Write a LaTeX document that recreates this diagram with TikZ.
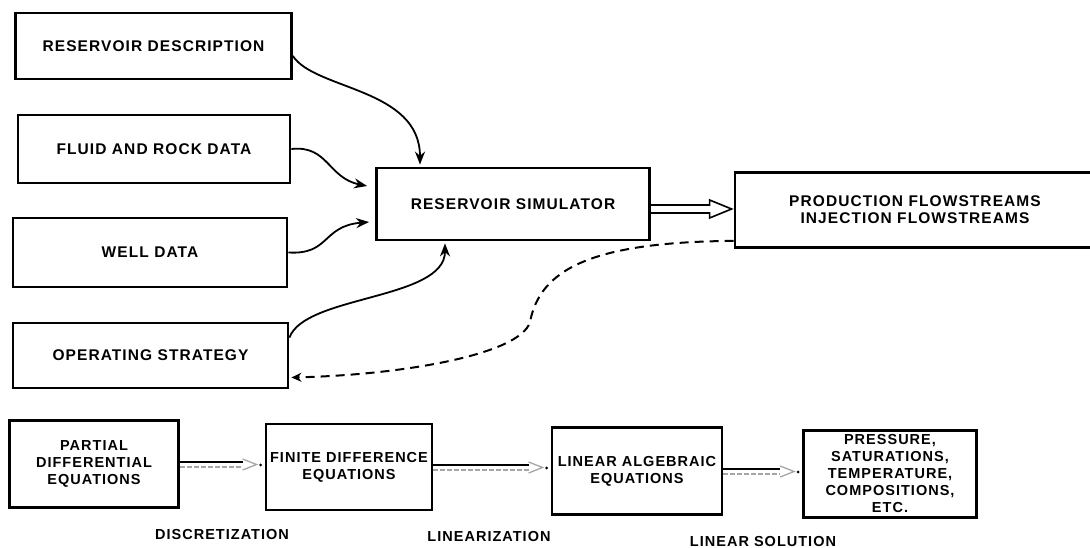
\documentclass[tikz,border=0pt]{standalone}
\usepackage{fontspec}
\newfontfamily\lab{Liberation Sans}[LetterSpace=7]
\usetikzlibrary{arrows.meta,calc}
\newcommand\flowarr[2]{%
  \path (#1.east) ++(0,-2) coordinate (fa1) (#2.west|-fa1) coordinate (fa2);
  \draw[line width=1.6pt] (fa1) -- ($(fa2)+(-22,0)$);
  \draw[gray!70, line width=1.3pt, dash pattern=on 5pt off 2pt] ($(fa1)+(0,5)$) -- ($(fa2)+(-22,5)$);
  \draw[gray!70, line width=1.3pt] ($(fa2)+(-22,-3)$) -- ($(fa2)+(-8,2.5)$) -- ($(fa2)+(-22,8)$);
  \fill ($(fa2)+(-4,3)$) circle (1.6pt);
}
\begin{document}
\begin{tikzpicture}[x=1pt,y=-1pt,
  box/.style={draw, line width=2.8pt, align=center, inner sep=0pt,
    font=\lab\bfseries\fontsize{15.5}{17}\selectfont},
  sbox/.style={box, font=\lab\bfseries\fontsize{14.5}{17}\selectfont},
  conn/.style={line width=1.8pt, -{Stealth[length=13pt,width=10pt]}},
  lbl/.style={font=\lab\bfseries\fontsize{14.5}{15}\selectfont, inner sep=0pt}]
\useasboundingbox (0,0) rectangle (1090,548);

\node[box, minimum width=276pt, minimum height=66pt] (rd) at (153.5,46) {RESERVOIR DESCRIPTION};
\node[box, minimum width=272pt, minimum height=68pt] (fr) at (154,149) {FLUID AND ROCK DATA};
\node[box, minimum width=274pt, minimum height=69pt] (wd) at (150,252.5) {WELL DATA};
\node[box, minimum width=275pt, minimum height=65pt] (os) at (150.5,355.5) {OPERATING STRATEGY};
\node[box, minimum width=273pt, minimum height=72pt] (rs) at (513,204) {RESERVOIR SIMULATOR};
\node[box, minimum width=360pt, minimum height=75pt] (pf) at (915,210) {PRODUCTION FLOWSTREAMS\\INJECTION FLOWSTREAMS};

\node[sbox, minimum width=169pt, minimum height=87pt] (pde) at (94,464) {PARTIAL\\DIFFERENTIAL\\EQUATIONS};
\node[sbox, minimum width=166pt, minimum height=86pt] (fde) at (349,467) {FINITE DIFFERENCE\\EQUATIONS};
\node[sbox, minimum width=170pt, minimum height=87pt] (lae) at (637,471) {LINEAR ALGEBRAIC\\EQUATIONS};
\node[sbox, minimum width=173pt, minimum height=87pt] (pr) at (890,474) {PRESSURE,\\SATURATIONS,\\TEMPERATURE,\\COMPOSITIONS,\\ETC.};

\node[lbl] (l1) at (222,535) {DISCRETIZATION};
\node[lbl] (l2) at (489,537) {LINEARIZATION};
\node[lbl] (l3) at (763,542) {LINEAR SOLUTION};

% inputs to simulator
\draw[conn] ($(rd.east)+(0,10)$) .. controls (315,90) and (420,88) .. ($(rs.north)+(-93,-2)$);
\draw[conn] (fr.east) .. controls (328,145) and (328,178) .. ($(rs.west)+(-8,-18)$);
\draw[conn] (wd.east) .. controls (330,255) and (322,226) .. ($(rs.west)+(-6,18)$);
\draw[conn] ($(os.north east)+(0,16)$) .. controls (305,295) and (445,300) .. ($(rs.south)+(-68,2)$);

% hollow arrow to flowstreams
\path (pf.west) ++(-2,-1) coordinate (ht) (rs.east|-ht) coordinate (hs);
\draw[line width=1.6pt, line join=miter] ($(hs)+(0,-4)$) -- ($(ht)+(-22,-4)$) -- ($(ht)+(-22,-9)$) -- (ht) -- ($(ht)+(-22,9)$) -- ($(ht)+(-22,4)$) -- ($(hs)+(0,4)$);

% feedback
\coordinate (fb) at (530,322);
\draw[line width=2pt, dash pattern=on 9pt off 6pt, -{Stealth[length=10pt,width=9pt]}]
  ($(pf.south west)+(0,-8)$) .. controls (590,242) and (540,270) .. (fb)
  .. controls (520,355) and (400,375) .. ($(os.east)+(2,22)$);

% bottom chain
\flowarr{pde}{fde}
\flowarr{fde}{lae}
\flowarr{lae}{pr}
\end{tikzpicture}
\end{document}
